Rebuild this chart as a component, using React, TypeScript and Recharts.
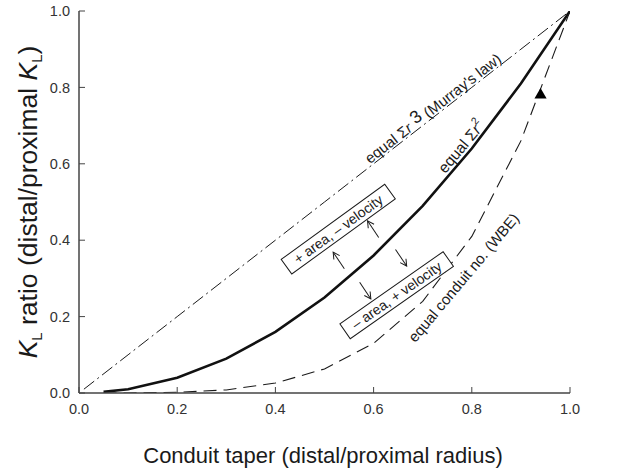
import React from "react";
import {
  ComposedChart,
  Line,
  Scatter,
  XAxis,
  YAxis,
  ReferenceDot,
} from "recharts";

// conduit taper (distal/proximal radius) and K ratio
const murrayTaper = [0.01, 0.1, 0.2, 0.3, 0.4, 0.5, 0.6, 0.7, 0.8, 0.9, 1.0];
const murrayK = [0.01, 0.1, 0.2, 0.3, 0.4, 0.5, 0.6, 0.7, 0.8, 0.9, 1.0];
const taper = [0.05, 0.1, 0.2, 0.3, 0.4, 0.5, 0.6, 0.7, 0.8, 0.9, 1.0];
const areaK = [0.003, 0.01, 0.04, 0.09, 0.16, 0.25, 0.36, 0.49, 0.64, 0.81, 1.0];
const wbeK = [0.0, 0.0, 0.002, 0.008, 0.026, 0.063, 0.13, 0.24, 0.41, 0.66, 1.0];
const observedTaper = [0.94];
const observedK = [0.78];
const xTicks = [0, 0.2, 0.4, 0.6, 0.8, 1.0];
const yTicks = [0, 0.2, 0.4, 0.6, 0.8, 1.0];

const murrayData = murrayTaper.map((x, i) => ({ x, k: murrayK[i] }));
const areaData = taper.map((x, i) => ({ x, k: areaK[i] }));
const wbeData = taper.map((x, i) => ({ x, k: wbeK[i] }));
const observedData = observedTaper.map((x, i) => ({ x, k: observedK[i] }));

const FONT = "'Liberation Sans', Arial, Helvetica, sans-serif";
const INK = "#1a1a1a";
const FRAME = "#444";

const fmt = (v: number) => v.toFixed(1);

// rotated annotation anchored at a data point
const Rotated = ({ cx, cy, angle, children }: any) => (
  <g transform={`translate(${cx},${cy}) rotate(${angle})`}>{children}</g>
);

const BoxNote = ({ text, w }: { text: string; w: number }) => (
  <g>
    <rect x={-w / 2} y={-9} width={w} height={18} fill="#fff" stroke={INK} strokeWidth={1} />
    <text x={0} y={5} textAnchor="middle" fontSize={14} fontFamily={FONT} fill={INK}>
      {text}
    </text>
  </g>
);

const Arrow = ({ len = 20 }: { len?: number }) => (
  <g stroke={INK} strokeWidth={1} fill="none">
    <line x1={-len / 2} y1={0} x2={len / 2} y2={0} />
    <polyline points={`${len / 2 - 6.5},-3.5 ${len / 2},0 ${len / 2 - 6.5},3.5`} />
  </g>
);

const YTitle = () => (
  <text
    transform="translate(37,202) rotate(-90)"
    textAnchor="middle"
    fontSize={26.5}
    fontFamily={FONT}
    fill={INK}
  >
    <tspan fontStyle="italic">K</tspan>
    <tspan fontSize={15} dy={5}>L</tspan>
    <tspan dy={-5}> ratio (distal/proximal </tspan>
    <tspan fontStyle="italic">K</tspan>
    <tspan fontSize={15} dy={5}>L</tspan>
    <tspan dy={-5}>)</tspan>
  </text>
);

export default function App() {
  return (
    <div style={{ position: "absolute", left: 0, top: 0, width: 641, height: 473, background: "#fff" }}>
      <ComposedChart
        width={641}
        height={473}
        margin={{ top: 11, right: 71, left: 39, bottom: 50 }}
      >
        <XAxis
          xAxisId="bottom"
          type="number"
          dataKey="x"
          domain={[0, 1]}
          ticks={xTicks}
          tickFormatter={fmt}
          height={30}
          tickSize={-6}
          tickMargin={17}
          axisLine={{ stroke: FRAME, strokeWidth: 1.5 }}
          tickLine={{ stroke: FRAME }}
          tick={{ fontSize: 14.5, fill: "#333", fontFamily: FONT }}
          allowDataOverflow
        />
        <XAxis
          xAxisId="top"
          orientation="top"
          type="number"
          dataKey="x"
          domain={[0, 1]}
          ticks={xTicks}
          height={0}
          tickSize={-6}
          tick={false}
          axisLine={{ stroke: FRAME, strokeWidth: 1.5 }}
          tickLine={{ stroke: FRAME }}
        />
        <YAxis
          yAxisId="left"
          type="number"
          dataKey="k"
          domain={[0, 1]}
          ticks={yTicks}
          tickFormatter={fmt}
          width={40}
          tickSize={-6}
          tickMargin={15}
          axisLine={{ stroke: FRAME, strokeWidth: 1.5 }}
          tickLine={{ stroke: FRAME }}
          tick={{ fontSize: 14.5, fill: "#333", fontFamily: FONT }}
          allowDataOverflow
        />
        <YAxis
          yAxisId="right"
          orientation="right"
          type="number"
          domain={[0, 1]}
          ticks={yTicks}
          width={0}
          tickSize={-6}
          tick={false}
          axisLine={{ stroke: FRAME, strokeWidth: 1.5 }}
          tickLine={{ stroke: FRAME }}
        />

        <Line
          xAxisId="bottom"
          yAxisId="left"
          data={murrayData}
          dataKey="k"
          type="linear"
          stroke={INK}
          strokeWidth={1}
          strokeDasharray="13 4 2 4"
          dot={false}
          isAnimationActive={false}
        />
        <Line
          xAxisId="bottom"
          yAxisId="left"
          data={areaData}
          dataKey="k"
          type="linear"
          stroke="#111"
          strokeWidth={2.6}
          dot={false}
          isAnimationActive={false}
        />
        <Line
          xAxisId="bottom"
          yAxisId="left"
          data={wbeData}
          dataKey="k"
          type="linear"
          stroke={INK}
          strokeWidth={1.1}
          strokeDasharray="13 7"
          dot={false}
          isAnimationActive={false}
        />
        <Scatter
          xAxisId="bottom"
          yAxisId="left"
          data={observedData}
          dataKey="k"
          shape="triangle"
          fill="#000"
          isAnimationActive={false}
        />

        {/* curve labels */}
        <ReferenceDot
          xAxisId="bottom"
          yAxisId="left"
          x={0.595}
          y={0.595}
          r={0}
          ifOverflow="visible"
          shape={(p: any) => (
            <Rotated cx={p.cx} cy={p.cy} angle={-37.9}>
              <text x={0} y={-2} fontSize={15} fontFamily={FONT} fill={INK}>
                equal Σ<tspan fontStyle="italic">r</tspan>
                <tspan dy={-3} fontSize={18}> 3</tspan>
                <tspan dy={3}> (Murray's law)</tspan>
              </text>
            </Rotated>
          )}
        />
        <ReferenceDot
          xAxisId="bottom"
          yAxisId="left"
          x={0.752}
          y={0.566}
          r={0}
          ifOverflow="visible"
          shape={(p: any) => (
            <Rotated cx={p.cx} cy={p.cy} angle={-50}>
              <text x={0} y={-4} fontSize={15.5} fontFamily={FONT} fill={INK}>
                equal Σ<tspan fontStyle="italic">r</tspan>
                <tspan dy={-8} fontSize={10.5}>2</tspan>
              </text>
            </Rotated>
          )}
        />
        <ReferenceDot
          xAxisId="bottom"
          yAxisId="left"
          x={0.685}
          y={0.13}
          r={0}
          ifOverflow="visible"
          shape={(p: any) => (
            <Rotated cx={p.cx} cy={p.cy} angle={-50}>
              <text x={0} y={0} fontSize={15} fontFamily={FONT} fill={INK}>
                equal conduit no. (WBE)
              </text>
            </Rotated>
          )}
        />

        {/* boxed notes */}
        <ReferenceDot
          xAxisId="bottom"
          yAxisId="left"
          x={0.528}
          y={0.429}
          r={0}
          ifOverflow="visible"
          shape={(p: any) => (
            <Rotated cx={p.cx} cy={p.cy} angle={-36}>
              <BoxNote text="+ area, – velocity" w={128} />
            </Rotated>
          )}
        />
        <ReferenceDot
          xAxisId="bottom"
          yAxisId="left"
          x={0.647}
          y={0.256}
          r={0}
          ifOverflow="visible"
          shape={(p: any) => (
            <Rotated cx={p.cx} cy={p.cy} angle={-35}>
              <BoxNote text="– area, + velocity" w={126} />
            </Rotated>
          )}
        />

        {/* arrows across the Σr² curve */}
        <ReferenceDot xAxisId="bottom" yAxisId="left" x={0.529} y={0.347} r={0} ifOverflow="visible"
          shape={(p: any) => <Rotated cx={p.cx} cy={p.cy} angle={-124}><Arrow /></Rotated>} />
        <ReferenceDot xAxisId="bottom" yAxisId="left" x={0.599} y={0.429} r={0} ifOverflow="visible"
          shape={(p: any) => <Rotated cx={p.cx} cy={p.cy} angle={-124}><Arrow /></Rotated>} />
        <ReferenceDot xAxisId="bottom" yAxisId="left" x={0.583} y={0.268} r={0} ifOverflow="visible"
          shape={(p: any) => <Rotated cx={p.cx} cy={p.cy} angle={56}><Arrow /></Rotated>} />
        <ReferenceDot xAxisId="bottom" yAxisId="left" x={0.656} y={0.354} r={0} ifOverflow="visible"
          shape={(p: any) => <Rotated cx={p.cx} cy={p.cy} angle={56}><Arrow /></Rotated>} />
      </ComposedChart>
      <svg width={641} height={473} style={{ position: "absolute", left: 0, top: 0, pointerEvents: "none" }}>
        <YTitle />
        <text x={323} y={463} textAnchor="middle" fontSize={22} fontFamily={FONT} fill={INK}>
          Conduit taper (distal/proximal radius)
        </text>
      </svg>
    </div>
  );
}
